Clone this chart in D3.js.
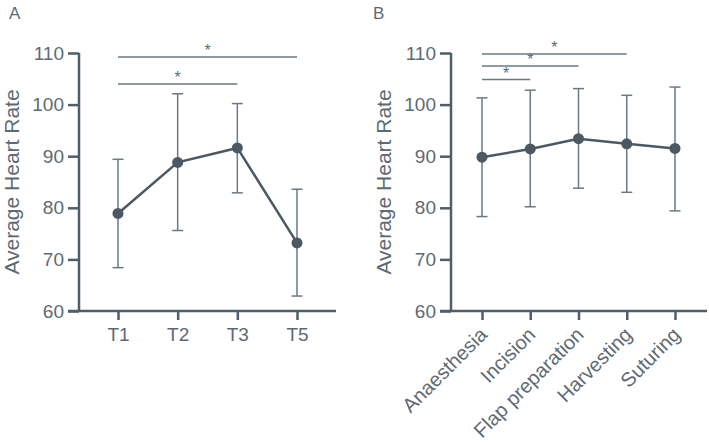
<!DOCTYPE html>
<html lang="en">
  <head>
    <meta charset="UTF-8" />
    <title>Average Heart Rate</title>
    <script src="https://d3js.org/d3.v7.min.js"></script>
    <style>
      body { margin: 0; background: #fff; }
      svg { font-family: "Liberation Sans", Arial, sans-serif; }
      .axis path, .axis line { stroke: #4f5f69; stroke-width: 2.5; }
      .axis text { fill: #5d6a73; font-size: 19px; }
    </style>
  </head>
  <body>
    <svg id="chart" width="709" height="444"></svg>
    <script>
      // panel A
      const catsA = ["T1", "T2", "T3", "T5"];
      const meanA = [78.9, 88.8, 91.6, 73.2];
      const upA = [89.4, 102.1, 100.2, 83.6];
      const lowA = [68.4, 75.6, 82.9, 62.9];
      const sigA = [["T1", "T5"], ["T1", "T3"]];

      // panel B
      const catsB = ["Anaesthesia", "Incision", "Flap preparation", "Harvesting", "Suturing"];
      const meanB = [89.8, 91.4, 93.4, 92.4, 91.5];
      const upB = [101.3, 102.8, 103.1, 101.8, 103.4];
      const lowB = [78.3, 80.2, 83.8, 83.0, 79.4];
      const sigB = [["Anaesthesia", "Harvesting"], ["Anaesthesia", "Flap preparation"], ["Anaesthesia", "Incision"]];

      const yTicks = [60, 70, 80, 90, 100, 110];

      const lineCol = "#4a5964";
      const barCol = "#6a7a84";
      const textCol = "#5d6a73";

      const svg = d3.select("#chart");

      function panel(opt) {
        const g = svg.append("g");
        const y = d3.scaleLinear().domain([60, 110]).range([311, 53]);
        const x = d3.scalePoint().domain(opt.cats).range(opt.xr);

        const yAxis = g.append("g").attr("class", "axis")
          .attr("transform", `translate(${opt.x0},0)`)
          .call(d3.axisLeft(y).tickValues(yTicks).tickSize(11).tickPadding(4).tickSizeOuter(0));
        yAxis.select(".domain").attr("d", `M0,${y(110)}V${y(60)}`);

        const xAxis = g.append("g").attr("class", "axis")
          .attr("transform", "translate(0,311)")
          .call(d3.axisBottom(x).tickSize(9).tickPadding(8).tickSizeOuter(0));
        xAxis.select(".domain").attr("d", `M${opt.x0 - 11},0H${opt.x1}`);
        if (opt.rotate) {
          xAxis.selectAll(".tick text")
            .attr("y", 0)
            .attr("text-anchor", "end")
            .attr("dy", "0.35em")
            .style("font-size", "20px")
            .attr("transform", "translate(1,20) rotate(-45)");
        }

        // y label
        g.append("text")
          .attr("transform", `translate(${opt.labelX},${(y(60) + y(110)) / 2}) rotate(-90)`)
          .attr("text-anchor", "middle")
          .attr("fill", textCol)
          .style("font-size", "21px")
          .text("Average Heart Rate");

        // panel letter
        g.append("text").attr("x", opt.letterX).attr("y", 19)
          .attr("fill", textCol).style("font-size", "17px").text(opt.letter);

        // error bars
        const eb = g.selectAll(".eb").data(opt.cats).enter().append("g")
          .attr("stroke", barCol).attr("stroke-width", 1.5);
        eb.append("line").attr("x1", d => x(d)).attr("x2", d => x(d))
          .attr("y1", (d, i) => y(opt.up[i])).attr("y2", (d, i) => y(opt.low[i]));
        eb.append("line").attr("x1", d => x(d) - 5.5).attr("x2", d => x(d) + 5.5)
          .attr("y1", (d, i) => y(opt.up[i])).attr("y2", (d, i) => y(opt.up[i]));
        eb.append("line").attr("x1", d => x(d) - 5.5).attr("x2", d => x(d) + 5.5)
          .attr("y1", (d, i) => y(opt.low[i])).attr("y2", (d, i) => y(opt.low[i]));

        // mean line
        const line = d3.line().x(d => x(d[0])).y(d => y(d[1]));
        g.append("path")
          .datum(opt.cats.map((c, i) => [c, opt.mean[i]]))
          .attr("d", line)
          .attr("fill", "none").attr("stroke", lineCol).attr("stroke-width", 2.5);
        g.selectAll(".pt").data(opt.cats).enter().append("circle")
          .attr("cx", d => x(d)).attr("cy", (d, i) => y(opt.mean[i]))
          .attr("r", 5.5).attr("fill", lineCol);

        // significance brackets
        opt.sig.forEach((s, i) => {
          const yy = opt.sigY[i];
          g.append("line").attr("x1", x(s[0])).attr("x2", x(s[1]))
            .attr("y1", yy).attr("y2", yy)
            .attr("stroke", barCol).attr("stroke-width", 1.5);
          g.append("text").attr("x", (x(s[0]) + x(s[1])) / 2).attr("y", yy - 1)
            .attr("text-anchor", "middle").attr("fill", textCol)
            .style("font-size", "16px").text("*");
        });
      }

      panel({
        cats: catsA, mean: meanA, up: upA, low: lowA, sig: sigA, sigY: [57, 84],
        x0: 79, x1: 336, xr: [118, 297], labelX: 19, letter: "A", letterX: 9
      });

      panel({
        cats: catsB, mean: meanB, up: upB, low: lowB, sig: sigB, sigY: [54, 66, 79.5],
        x0: 451, x1: 707, xr: [482, 675], labelX: 391, letter: "B", letterX: 373, rotate: true
      });
    </script>
  </body>
</html>
